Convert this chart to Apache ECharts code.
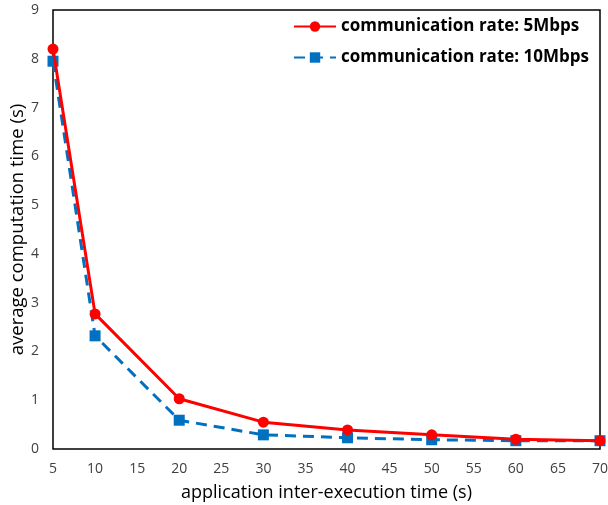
<!DOCTYPE html>
<html>
<head>
<meta charset="UTF-8">
<script src="https://cdn.jsdelivr.net/npm/echarts@6/dist/echarts.min.js"></script>
<style>
  html, body { margin: 0; padding: 0; background: #fff; }
  #chart { width: 608px; height: 505px; }
</style>
</head>
<body>
<div id="chart"></div>
<script>
  // inter-execution time (s)
  const interTimes = [5, 10, 20, 30, 40, 50, 60, 70];
  // average computation time (s)
  const rate5 = [8.2, 2.77, 1.03, 0.55, 0.39, 0.29, 0.20, 0.17];
  const rate10 = [7.95, 2.32, 0.59, 0.29, 0.23, 0.19, 0.17, 0.17];

  const font = '"Open Sans", "DejaVu Sans", sans-serif';
  const chart = echarts.init(document.getElementById('chart'));

  chart.setOption({
    animation: false,
    grid: {
      left: 53, right: 8, top: 10, bottom: 56, show: true,
      borderColor: '#000', borderWidth: 1.5,
      containLabel: false, outerBoundsMode: 'none'
    },
    legend: {
      top: 13, right: 14, orient: 'vertical', itemGap: 14,
      itemWidth: 42, itemHeight: 13,
      textStyle: { fontFamily: font, fontSize: 17, fontWeight: 'bold', color: '#000' },
      data: ['communication rate: 5Mbps', 'communication rate: 10Mbps']
    },
    xAxis: {
      type: 'value', min: 5, max: 70, interval: 5,
      name: 'application inter-execution time (s)',
      nameLocation: 'middle', nameGap: 35,
      nameTextStyle: { fontFamily: font, fontSize: 18, color: '#000' },
      axisLine: { show: false }, axisTick: { show: false }, splitLine: { show: false },
      axisLabel: { fontFamily: font, fontSize: 14, color: '#404040', margin: 13 }
    },
    yAxis: {
      type: 'value', min: 0, max: 9, interval: 1,
      name: 'average computation time (s)',
      nameLocation: 'middle', nameGap: 26, nameMoveOverlap: false,
      nameTextStyle: { fontFamily: font, fontSize: 18.5, color: '#000' },
      axisLine: { show: false }, axisTick: { show: false }, splitLine: { show: false },
      axisLabel: { fontFamily: font, fontSize: 14, color: '#404040', margin: 14 }
    },
    series: [
      {
        name: 'communication rate: 5Mbps', type: 'line',
        data: interTimes.map((x, i) => [x, rate5[i]]),
        symbol: 'circle', symbolSize: 11,
        itemStyle: { color: '#ff0000' },
        lineStyle: { color: '#ff0000', width: 3 }, z: 3
      },
      {
        name: 'communication rate: 10Mbps', type: 'line',
        data: interTimes.map((x, i) => [x, rate10[i]]),
        symbol: 'rect', symbolSize: 11,
        itemStyle: { color: '#0070c0' },
        lineStyle: { color: '#0070c0', width: 3, type: [11, 7] }, z: 2
      }
    ]
  });
</script>
</body>
</html>
